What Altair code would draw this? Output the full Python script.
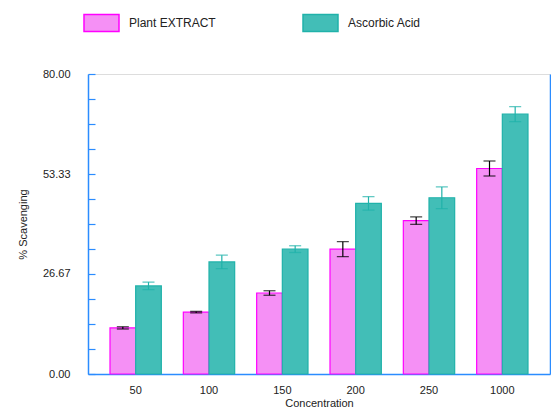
import altair as alt
import pandas as pd

concentration = ["50", "100", "150", "200", "250", "1000"]
plant = [12.3, 16.5, 21.6, 33.3, 40.9, 54.8]
plant_err = [0.3, 0.2, 0.6, 2.0, 1.0, 2.0]
ascorbic = [23.5, 29.9, 33.3, 45.5, 47.0, 69.3]
ascorbic_err = [1.0, 1.8, 0.9, 1.8, 2.9, 2.0]
series = ["Plant EXTRACT", "Ascorbic Acid"]
y_ticks = [0, 6.667, 13.333, 20, 26.667, 33.333, 40, 46.667, 53.333, 60, 66.667, 73.333, 80]
y_labels = [0, 26.667, 53.333, 80]

rows = []
for i, c in enumerate(concentration):
    rows.append({"conc": c, "series": series[0], "v": plant[i],
                 "lo": plant[i] - plant_err[i], "hi": plant[i] + plant_err[i]})
    rows.append({"conc": c, "series": series[1], "v": ascorbic[i],
                 "lo": ascorbic[i] - ascorbic_err[i], "hi": ascorbic[i] + ascorbic_err[i]})
df = pd.DataFrame(rows)

W, H = 462, 300
blue = "#2b8cff"
font = "Liberation Sans"

xenc = alt.X("conc:N", sort=concentration,
             scale=alt.Scale(paddingInner=0.3, paddingOuter=0.3),
             axis=alt.Axis(title="Concentration", labelAngle=0, domainColor=blue,
                           domainWidth=1.5, ticks=False, labelPadding=10,
                           titlePadding=2, labelFontSize=11, titleFontSize=11,
                           titleFontWeight="normal", labelColor="#222", titleColor="#222",
                           labelFont=font, titleFont=font))
yscale = alt.Scale(domain=[0, 80], nice=False)
xoff = alt.XOffset("series:N", sort=series, scale=alt.Scale(paddingInner=0, paddingOuter=0))

bars = alt.Chart(df).mark_bar(strokeWidth=1.2).encode(
    x=xenc,
    xOffset=xoff,
    y=alt.Y("v:Q", scale=yscale,
            axis=alt.Axis(title="% Scavenging", values=y_labels, format=".2f",
                          ticks=False, grid=False, domainColor=blue, domainWidth=1.5,
                          labelPadding=18, titlePadding=14, labelFontSize=11,
                          titleFontSize=11, titleFontWeight="normal",
                          labelColor="#222", titleColor="#222",
                          labelFont=font, titleFont=font)),
    fill=alt.Fill("series:N", sort=series,
                  scale=alt.Scale(domain=series, range=["#f590f5", "#42beb7"]),
                  legend=alt.Legend(title=None, orient="none", legendX=-5, legendY=-70,
                                    direction="horizontal", columnPadding=84,
                                    symbolType="M-1,-0.486H1V0.486H-1Z", symbolSize=1225,
                                    symbolStrokeWidth=1.5, labelFontSize=12,
                                    labelOffset=9, labelFont=font, labelColor="#222",
                                    symbolOpacity=1)),
    stroke=alt.Stroke("series:N", sort=series,
                      scale=alt.Scale(domain=series, range=["#ff00ff", "#20b2aa"]),
                      legend=None),
)

err_color = alt.Color("series:N", sort=series,
                      scale=alt.Scale(domain=series, range=["#000000", "#20b2aa"]),
                      legend=None)

rules = alt.Chart(df).mark_rule(strokeWidth=1.2).encode(
    x=alt.X("conc:N", sort=concentration),
    xOffset=xoff,
    y=alt.Y("lo:Q", scale=yscale,
            axis=alt.Axis(orient="right", offset=-W, values=y_ticks, labels=False,
                          domain=False, grid=False, ticks=True, tickSize=7,
                          tickColor=blue, tickWidth=1.2, title=None)),
    y2="hi:Q",
    color=err_color,
)

caps_hi = alt.Chart(df).mark_tick(size=12, thickness=1.3, orient="horizontal").encode(
    x=alt.X("conc:N", sort=concentration),
    xOffset=xoff,
    y=alt.Y("hi:Q", scale=yscale,
            axis=alt.Axis(orient="right", labels=False, ticks=False, grid=False,
                          domainColor=blue, domainWidth=1.5, title=None)),
    color=err_color,
)
caps_lo = alt.Chart(df).mark_tick(size=12, thickness=1.3, orient="horizontal").encode(
    x=alt.X("conc:N", sort=concentration),
    xOffset=xoff,
    y=alt.Y("lo:Q", scale=yscale, axis=None),
    color=err_color,
)

chart = alt.layer(bars, rules, caps_hi, caps_lo).resolve_axis(y="independent").properties(
    width=W, height=H, autosize=alt.AutoSizeParams(type="none"),
    padding={"left": 80, "top": 66, "right": 1, "bottom": 37},
).configure_view(stroke=None).configure(background="white")

chart.save("out.html", embed_options={"renderer": "svg", "actions": False})
